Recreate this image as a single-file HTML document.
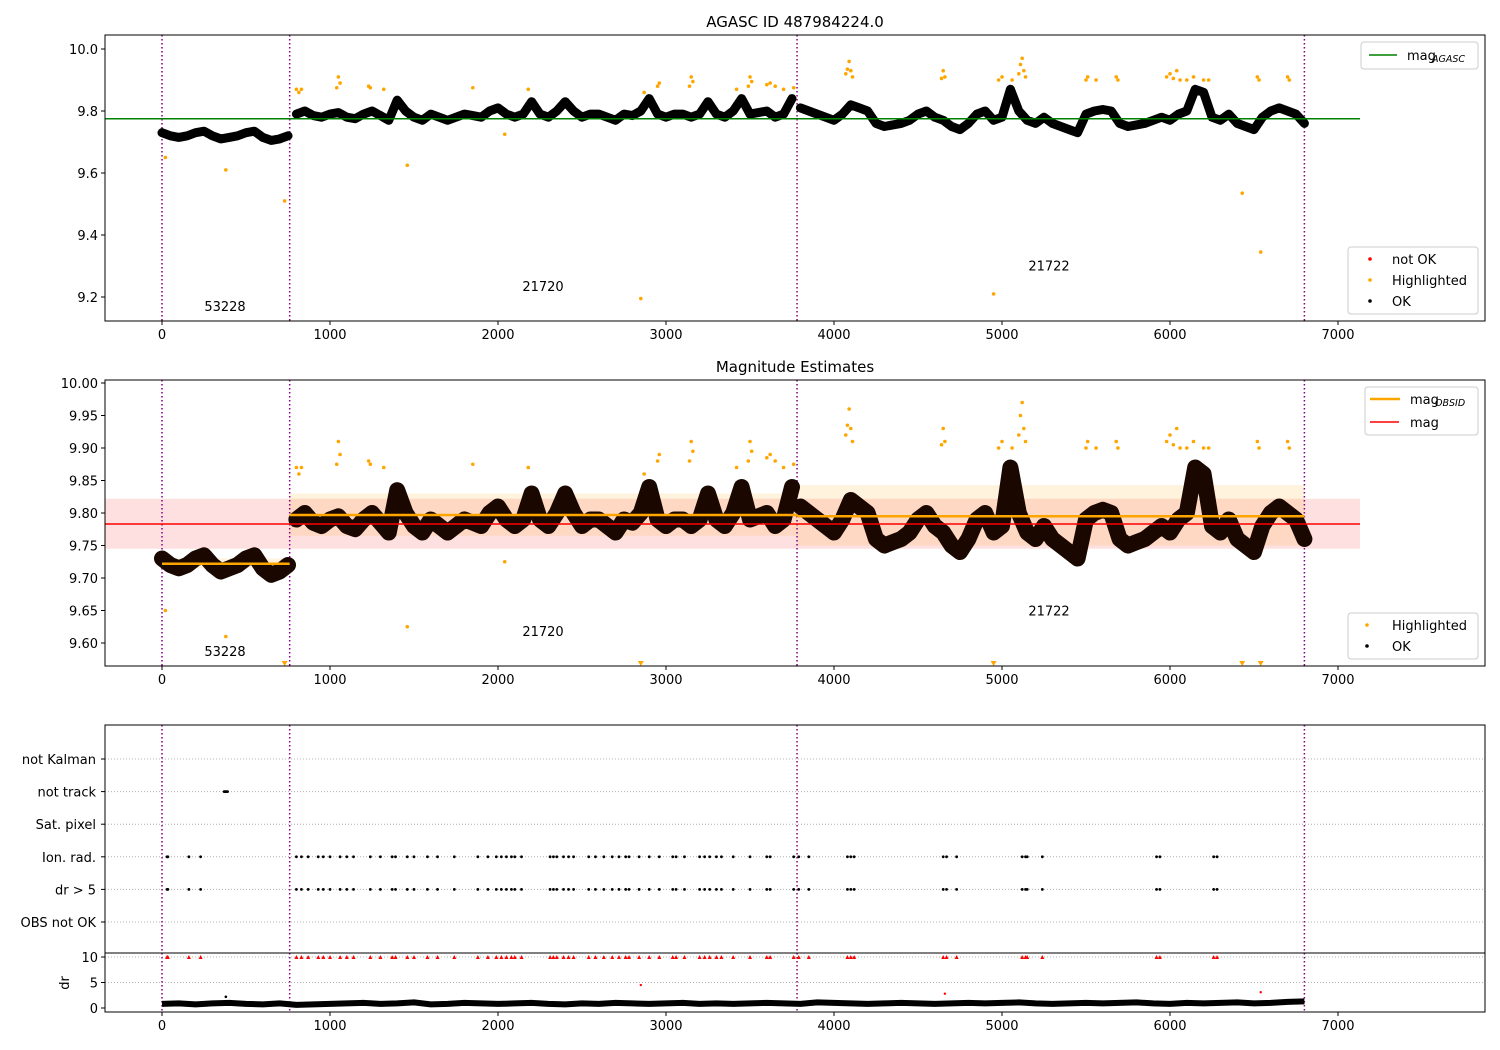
<!DOCTYPE html>
<html><head><meta charset="utf-8"><style>
body{margin:0;background:#fff}
svg{display:block;font-family:"DejaVu Sans","Liberation Sans",sans-serif}
</style></head><body>
<svg id="fig" width="1500" height="1050" viewBox="0 0 1500 1050" xmlns="http://www.w3.org/2000/svg"></svg>
<script>
// ---- data ----
const obsStarts = [0, 760, 3780];
const obsEnds = [760, 3780, 6800];
const obsIds = ["53228", "21720", "21722"];
const obsMag = [9.722, 9.797, 9.795];
const obsLo = [9.715, 9.765, 9.75];
const obsHi = [9.73, 9.83, 9.843];
const magAgasc = 9.775;
const magAll = 9.783, magLo = 9.745, magHi = 9.822;
const seg0Start = 0;
const seg0 = [9.73,9.72,9.715,9.72,9.73,9.735,9.72,9.71,9.715,9.72,9.73,9.735,9.715,9.705,9.71,9.72];
const seg1Start = 800;
const seg1 = [9.79,9.80,9.785,9.78,9.79,9.795,9.78,9.775,9.79,9.80,9.785,9.77,9.835,9.80,9.78,9.77,9.79,9.78,9.77,9.78,9.79,9.785,9.78,9.80,9.81,9.79,9.78,9.79,9.83,9.79,9.78,9.80,9.83,9.80,9.78,9.79,9.79,9.78,9.77,9.79,9.785,9.80,9.84,9.79,9.78,9.79,9.79,9.78,9.79,9.83,9.79,9.78,9.80,9.84,9.79,9.795,9.80,9.78,9.79,9.84];
const seg2Start = 3800;
const seg2 = [9.81,9.80,9.79,9.78,9.77,9.79,9.82,9.81,9.80,9.76,9.75,9.755,9.76,9.77,9.79,9.80,9.78,9.77,9.75,9.74,9.76,9.79,9.80,9.77,9.78,9.87,9.80,9.77,9.76,9.78,9.76,9.75,9.74,9.73,9.79,9.80,9.805,9.80,9.76,9.75,9.755,9.76,9.77,9.78,9.77,9.79,9.80,9.87,9.86,9.78,9.77,9.79,9.76,9.75,9.74,9.78,9.80,9.81,9.80,9.79,9.76];
const hlTimes = [20,380,730,1460,2040,2850,4950,6430,6540, 800,815,830,1040,1050,1060,1230,1240,1320,1850,2180,2870,2950,2960,3140,3150,3160,3420,3490,3500,3510,3600,3620,3650,3700,3760,4070,4080,4090,4100,4110,4640,4650,4660,4980,5000,5060,5100,5110,5120,5130,5140,5500,5510,5560,5680,5690,5980,6000,6020,6040,6060,6100,6140,6200,6230,6520,6530,6700,6710];
const hlMags = [9.65,9.61,9.51,9.625,9.725,9.195,9.21,9.535,9.345, 9.87,9.86,9.87,9.875,9.91,9.89,9.88,9.875,9.87,9.875,9.87,9.86,9.88,9.89,9.88,9.91,9.895,9.87,9.88,9.91,9.895,9.885,9.89,9.88,9.87,9.875,9.92,9.935,9.96,9.93,9.91,9.905,9.93,9.91,9.90,9.91,9.90,9.92,9.95,9.97,9.93,9.91,9.90,9.91,9.90,9.91,9.90,9.91,9.92,9.905,9.93,9.90,9.90,9.91,9.90,9.90,9.91,9.90,9.91,9.90];
const eventTimes = [30,35,160,230,800,830,870,930,960,1000,1060,1100,1140,1240,1300,1370,1390,1460,1500,1580,1640,1740,1880,1940,1990,2020,2050,2080,2100,2140,2310,2330,2350,2390,2420,2450,2540,2580,2630,2680,2720,2760,2780,2840,2900,2960,3040,3060,3110,3200,3230,3260,3300,3330,3400,3500,3600,3620,3760,3790,3850,4080,4100,4120,4650,4670,4730,5120,5140,5150,5240,5920,5940,6260,6280];
const notTrackTimes = [370,375,380,385,390];
const drStep = 100;
const drVals = [0.8,0.9,0.7,0.9,1.0,0.8,0.7,0.9,0.6,0.7,0.8,0.9,1.0,0.8,0.9,1.1,0.7,0.8,1.0,0.9,0.8,0.9,1.0,0.8,0.7,0.9,0.8,1.0,0.9,0.8,0.9,1.0,0.8,0.9,0.8,0.9,1.0,0.9,0.8,1.1,1.0,0.9,0.8,0.9,1.0,0.9,0.8,0.9,1.0,0.9,1.0,1.1,0.9,0.8,0.9,1.0,0.9,1.0,1.1,0.9,0.8,1.0,0.9,1.0,1.1,0.9,1.0,1.2,1.3];
const drOutT = [2850,4660,6540];
const drOutV = [4.5,2.8,3.1];
const catLabels = ["not Kalman","not track","Sat. pixel","Ion. rad.","dr > 5","OBS not OK"];
const xTicks = [0,1000,2000,3000,4000,5000,6000,7000];
const y1Ticks = [9.2,9.4,9.6,9.8,10.0];
const y2Ticks = [9.60,9.65,9.70,9.75,9.80,9.85,9.90,9.95,10.00];
const drTicks = [0,5,10];

// ---- scales ----
const X0=105, X1=1485;
const xs = t => 162 + t*0.168;
const y1 = m => 49 + (10-m)*310;
const y2 = m => 383 + (10-m)*650;
const yc = i => 759 + i*32.6;
const yd = v => 1008 - v*5.1;
const NS="http://www.w3.org/2000/svg";
const svg=document.getElementById('fig');
function mk(tag, attrs, parent){const e=document.createElementNS(NS,tag);for(const k in attrs)e.setAttribute(k,attrs[k]);(parent||svg).appendChild(e);return e;}
function txt(x,y,s,size,anchor,parent){const e=mk('text',{x:x,y:y,'font-size':size||13,'text-anchor':anchor||'middle',fill:'#000'},parent);e.textContent=s;return e;}
function clip(id,top,bot){const c=mk('clipPath',{id:id});mk('rect',{x:X0,y:top,width:X1-X0,height:bot-top},c);}
clip('c1',35,321);clip('c2',380,666);clip('c3',725,953);clip('c4',953,1012);
function series(){const a=[];seg0.forEach((m,i)=>a.push([seg0Start+i*50,m]));a.push(null);seg1.forEach((m,i)=>a.push([seg1Start+i*50,m]));a.push(null);seg2.forEach((m,i)=>a.push([seg2Start+i*50,m]));return a;}
function pathFor(ys){let d='',pen=false;series().forEach(p=>{if(!p){pen=false;return;}d+=(pen?'L':'M')+xs(p[0]).toFixed(1)+','+ys(p[1]).toFixed(1);pen=true;});return d;}
function vlines(g,top,bot){obsStarts.concat([6800]).forEach(t=>{const l=mk('line',{x1:xs(t),x2:xs(t),y1:top,y2:bot,stroke:'#800080','stroke-width':1.5,'stroke-dasharray':'1.5,2.5'},g);});}
function frame(top,bot,name){const r=mk('rect',{x:X0,y:top,width:X1-X0,height:bot-top,fill:'none',stroke:'#000','stroke-width':1});}
function xaxis(bot){const g=mk('g',{});xTicks.forEach(t=>{mk('line',{x1:xs(t),x2:xs(t),y1:bot,y2:bot+4,stroke:'#000'},g);const l=txt(xs(t),bot+18,String(t),13,'middle',g);});}
function yaxis(ticks,ys,fmt){const g=mk('g',{});ticks.forEach(v=>{mk('line',{x1:X0-4,x2:X0,y1:ys(v),y2:ys(v),stroke:'#000'},g);const l=txt(X0-7,ys(v)+5,v.toFixed(fmt),13,'end',g);});}
function dots(g,ts,ms,ys,color,r,lo,hi){ts.forEach((t,i)=>{const m=ms[i];if(m<lo||m>hi)return;const c=mk('circle',{cx:xs(t),cy:ys(m),r:r,fill:color},g);});}

// ===== Panel 1 =====
const t1=txt(795,27,'AGASC ID 487984224.0',15);
const g1=mk('g',{'clip-path':'url(#c1)'});
vlines(g1,35,321);
const ok1=mk('path',{d:pathFor(y1),fill:'none',stroke:'#000','stroke-width':9,'stroke-linejoin':'round','stroke-linecap':'round'},g1);
const gl=mk('line',{x1:X0,x2:1360,y1:y1(magAgasc),y2:y1(magAgasc),stroke:'#008000','stroke-width':1.5},g1);
dots(g1,hlTimes,hlMags,y1,'orange',1.8,9.12,10.05);
[[225,9.155],[543,9.22],[1049,9.285]].forEach((p,i)=>{const l=txt(p[0],y1(p[1]),obsIds[i],13,'middle',g1);});
frame(35,321,'panel-agasc-frame');xaxis(321);yaxis(y1Ticks,y1,1);
function legendBox(x,y,w,h,name){const r=mk('rect',{x:x,y:y,width:w,height:h,rx:3,fill:'#fff','fill-opacity':0.8,stroke:'#ccc'});}
legendBox(1361,42,117,27,'legend-agasc');
mk('line',{x1:1369,x2:1397,y1:55,y2:55,stroke:'#008000','stroke-width':1.5});
let lt=txt(1407,60,'mag',13,'start');
mk('text',{x:1432,y:62,'font-size':9.5,'font-style':'italic'}).textContent='AGASC';
legendBox(1348,247,130,67,'legend-status');
[['red','not OK',259],['orange','Highlighted',280],['#000','OK',301]].forEach(e=>{mk('circle',{cx:1370,cy:e[2],r:1.8,fill:e[0]});const l=txt(1392,e[2]+5,e[1],13,'start');});

// ===== Panel 2 =====
const t2=txt(795,372,'Magnitude Estimates',15);
const g2=mk('g',{'clip-path':'url(#c2)'});
const band=mk('rect',{x:X0,y:y2(magHi),width:1360-X0,height:y2(magLo)-y2(magHi),fill:'red','fill-opacity':0.12},g2);
obsStarts.forEach((s,i)=>{const b=mk('rect',{x:xs(s),y:y2(obsHi[i]),width:xs(obsEnds[i])-xs(s),height:y2(obsLo[i])-y2(obsHi[i]),fill:'orange','fill-opacity':0.13},g2);});
vlines(g2,380,666);
const ok2=mk('path',{d:pathFor(y2),fill:'none',stroke:'#1a0800','stroke-width':16,'stroke-linejoin':'round','stroke-linecap':'round'},g2);
obsStarts.forEach((s,i)=>{const l=mk('line',{x1:xs(s),x2:xs(obsEnds[i]),y1:y2(obsMag[i]),y2:y2(obsMag[i]),stroke:'orange','stroke-width':2.5},g2);});
const rl=mk('line',{x1:X0,x2:1360,y1:y2(magAll),y2:y2(magAll),stroke:'red','stroke-width':1.5},g2);
dots(g2,hlTimes,hlMags,y2,'orange',1.8,9.565,10.01);
hlTimes.forEach((t,i)=>{if(hlMags[i]>=9.565)return;const p=mk('path',{d:`M${xs(t)-3},661L${xs(t)+3},661L${xs(t)},666Z`,fill:'orange'},g2);});
[[225,9.58],[543,9.611],[1049,9.642]].forEach((p,i)=>{const l=txt(p[0],y2(p[1]),obsIds[i],13,'middle',g2);});
frame(380,666,'panel-estimates-frame');xaxis(666);yaxis(y2Ticks,y2,2);
legendBox(1365,387,113,48,'legend-mag');
mk('line',{x1:1370,x2:1400,y1:399,y2:399,stroke:'orange','stroke-width':2.5});
mk('line',{x1:1370,x2:1399,y1:422,y2:422,stroke:'red','stroke-width':1.5});
lt=txt(1410,404,'mag',13,'start');
mk('text',{x:1435,y:406,'font-size':9.5,'font-style':'italic'}).textContent='OBSID';
lt=txt(1410,427,'mag',13,'start');
legendBox(1348,613,130,46,'legend-status-2');
[['orange','Highlighted',625],['#000','OK',646]].forEach(e=>{mk('circle',{cx:1367,cy:e[2],r:1.8,fill:e[0]});const l=txt(1392,e[2]+5,e[1],13,'start');});

// ===== Panel 3 =====
const g3=mk('g',{'clip-path':'url(#c3)'});
catLabels.forEach((c,i)=>{mk('line',{x1:X0,x2:X1,y1:yc(i),y2:yc(i),stroke:'#b0b0b0','stroke-dasharray':'1,2'},g3);mk('line',{x1:X0-4,x2:X0,y1:yc(i),y2:yc(i),stroke:'#000'});const l=txt(X0-9,yc(i)+5,c,13,'end');});
vlines(g3,725,953);
[3,4].forEach(ci=>eventTimes.forEach(t=>{const c=mk('circle',{cx:xs(t),cy:yc(ci),r:1.4,fill:'#000'},g3);}));
notTrackTimes.forEach(t=>{const c=mk('circle',{cx:xs(t),cy:yc(1),r:1.4,fill:'#000'},g3);});
frame(725,953,'flags-frame');
const g4=mk('g',{'clip-path':'url(#c4)'});
[5,10].forEach(v=>mk('line',{x1:X0,x2:X1,y1:yd(v),y2:yd(v),stroke:'#b0b0b0','stroke-dasharray':'1,2'},g4));
vlines(g4,953,1012);
eventTimes.forEach(t=>{const p=mk('path',{d:`M${xs(t)-2},${yd(10)+2}L${xs(t)+2},${yd(10)+2}L${xs(t)},${yd(10)-2}Z`,fill:'red'},g4);});
let dd='';drVals.forEach((v,i)=>{dd+=(i?'L':'M')+xs(i*drStep).toFixed(1)+','+yd(v).toFixed(1);});
const drl=mk('path',{d:dd,fill:'none',stroke:'#000','stroke-width':6,'stroke-linejoin':'round'},g4);
drOutT.forEach((t,i)=>{const c=mk('circle',{cx:xs(t),cy:yd(drOutV[i]),r:1.2,fill:'red'},g4);});
mk('circle',{cx:xs(380),cy:yd(2.2),r:1.3,fill:'#000'},g4);
frame(953,1012,'dr-frame');xaxis(1012);
drTicks.forEach(v=>{mk('line',{x1:X0-4,x2:X0,y1:yd(v),y2:yd(v),stroke:'#000'});const l=txt(X0-7,yd(v)+5,String(v),13,'end');});
const dl=mk('text',{x:0,y:0,'font-size':13,'text-anchor':'middle',transform:'translate(69,983) rotate(-90)'});dl.textContent='dr';
</script>
</body></html>
